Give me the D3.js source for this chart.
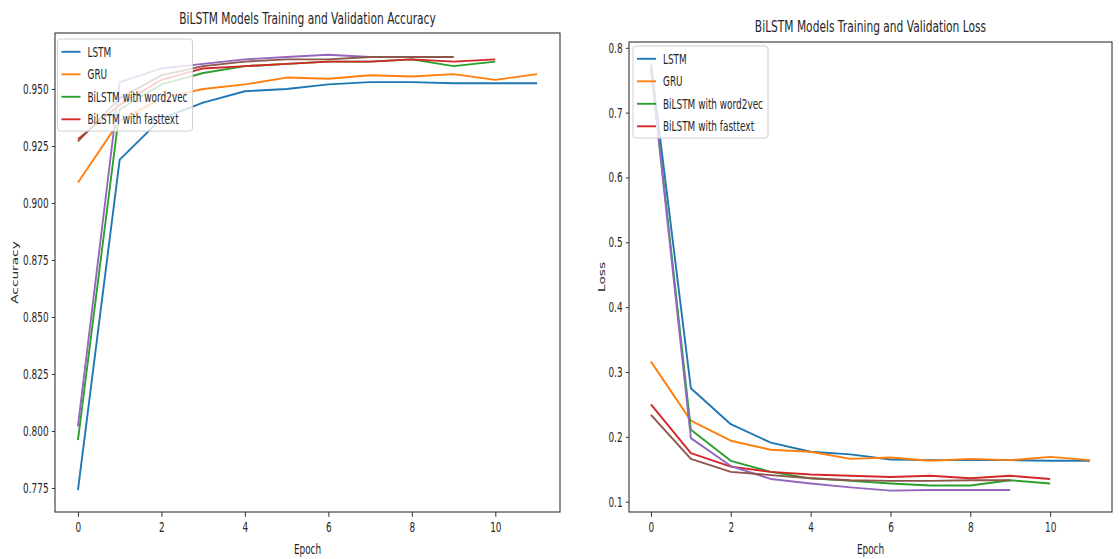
<!DOCTYPE html>
<html><head><meta charset="utf-8">
<script src="https://cdn.jsdelivr.net/npm/d3@7"></script>
<style>
body{margin:0;background:#fff}
svg{display:block}
text{font-family:"DejaVu Sans",sans-serif;fill:#262626}
</style>
</head><body>
<svg id="c" width="1120" height="559"></svg>
<script>
// ---------- data ----------
const epochs = d3.range(12);
const seriesNames = ["LSTM", "GRU", "BiLSTM with word2vec", "BiLSTM with fasttext", "", ""];
const seriesColors = ["#1f77b4", "#ff7f0e", "#2ca02c", "#d62728", "#9467bd", "#8c564b"];

const accLSTM     = [0.774, 0.919, 0.937, 0.944, 0.949, 0.950, 0.952, 0.953, 0.953, 0.9525, 0.9525, 0.9525];
const accGRU      = [0.909, 0.936, 0.946, 0.950, 0.952, 0.955, 0.9545, 0.956, 0.9555, 0.9565, 0.954, 0.9565];
const accWord2vec = [0.796, 0.941, 0.952, 0.957, 0.960, 0.961, 0.962, 0.962, 0.963, 0.960, 0.962];
const accFasttext = [0.928, 0.943, 0.954, 0.959, 0.960, 0.961, 0.962, 0.962, 0.963, 0.962, 0.963];
const accExtra1   = [0.802, 0.953, 0.959, 0.961, 0.963, 0.964, 0.965, 0.964, 0.964, 0.964];
const accExtra2   = [0.927, 0.946, 0.956, 0.960, 0.962, 0.963, 0.963, 0.964, 0.964, 0.964];

const lossLSTM     = [0.776, 0.275, 0.2195, 0.191, 0.177, 0.173, 0.165, 0.164, 0.164, 0.164, 0.163, 0.163];
const lossGRU      = [0.316, 0.225, 0.194, 0.180, 0.177, 0.166, 0.168, 0.163, 0.166, 0.164, 0.169, 0.164];
const lossWord2vec = [0.770, 0.211, 0.163, 0.146, 0.136, 0.132, 0.128, 0.125, 0.125, 0.133, 0.128];
const lossFasttext = [0.250, 0.175, 0.154, 0.146, 0.142, 0.140, 0.138, 0.140, 0.136, 0.140, 0.135];
const lossExtra1   = [0.768, 0.198, 0.155, 0.135, 0.128, 0.122, 0.117, 0.118, 0.118, 0.118];
const lossExtra2   = [0.234, 0.166, 0.146, 0.141, 0.136, 0.133, 0.132, 0.132, 0.133, 0.133];

const xTicks = [0, 2, 4, 6, 8, 10];
const accTicks = [0.775, 0.800, 0.825, 0.850, 0.875, 0.900, 0.925, 0.950];
const lossTicks = [0.1, 0.2, 0.3, 0.4, 0.5, 0.6, 0.7, 0.8];

// ---------- layout ----------
const SX = 0.65;           // horizontal squeeze of the picture
const FS = 13.7, FT = 16.4;
const svg = d3.select("#c");

const panels = [
  { id: "acc", title: "BiLSTM Models Training and Validation Accuracy", ylabel: "Accuracy",
    series: [accLSTM, accGRU, accWord2vec, accFasttext, accExtra1, accExtra2],
    ticks: accTicks, fmt: d3.format(".3f"),
    box: { l: 55, r: 560, t: 33, b: 512 }, titleY: 24, ylabelX: 14, legTop: 39, legLeft: 57.5 },
  { id: "loss", title: "BiLSTM Models Training and Validation Loss", ylabel: "Loss",
    series: [lossLSTM, lossGRU, lossWord2vec, lossFasttext, lossExtra1, lossExtra2],
    ticks: lossTicks, fmt: d3.format(".1f"),
    box: { l: 629, r: 1112, t: 42, b: 512 }, titleY: 32, ylabelX: 601, legTop: 46, legLeft: 633 }
];

function pad(ext) { const r = ext[1] - ext[0]; return [ext[0] - 0.05 * r, ext[1] + 0.05 * r]; }

panels.forEach(p => {
  const B = p.box;
  const g = svg.append("g");
  const maxLen = d3.max(p.series, s => s.length);
  const x = d3.scaleLinear().domain(pad([0, maxLen - 1])).range([B.l, B.r]);
  const all = p.series.flat();
  const y = d3.scaleLinear().domain(pad(d3.extent(all))).range([B.b, B.t]);

  const clipId = "clip-" + p.id;
  svg.append("clipPath").attr("id", clipId).append("rect")
    .attr("x", B.l).attr("y", B.t).attr("width", B.r - B.l).attr("height", B.b - B.t);

  const line = d3.line().x((d, i) => x(epochs[i])).y(d => y(d));
  p.series.forEach((s, i) => {
    g.append("path").datum(s).attr("d", line)
      .attr("fill", "none").attr("stroke", seriesColors[i])
      .attr("stroke-width", 1.9).attr("stroke-linejoin", "round")
      .attr("clip-path", `url(#${clipId})`);
  });

  // axes
  const xa = g.append("g").attr("transform", `translate(0,${B.b})`)
    .call(d3.axisBottom(x).tickValues(xTicks).tickFormat(d3.format("d")).tickSize(4.9).tickPadding(4.9).tickSizeOuter(0));
  const ya = g.append("g").attr("transform", `translate(${B.l},0)`)
    .call(d3.axisLeft(y).tickValues(p.ticks).tickFormat(p.fmt).tickSize(3.2).tickPadding(3.2).tickSizeOuter(0));
  [xa, ya].forEach(a => {
    a.select(".domain").remove();
    a.selectAll("line").attr("stroke", "#333").attr("stroke-width", 1);
    a.selectAll("text").attr("font-size", FS).attr("font-family", "DejaVu Sans").attr("fill", "#262626");
  });
  xa.selectAll("text").attr("transform", `scale(${SX},1)`);
  ya.selectAll("text").attr("x", 0).attr("transform", `translate(-6.4,0) scale(${SX},1)`);

  // spines
  g.append("rect").attr("x", B.l).attr("y", B.t).attr("width", B.r - B.l).attr("height", B.b - B.t)
    .attr("fill", "none").attr("stroke", "#333").attr("stroke-width", 1.1);

  // title
  const cx = (B.l + B.r) / 2;
  g.append("text").text(p.title).attr("text-anchor", "middle").attr("font-size", FT)
    .attr("transform", `translate(${cx},${p.titleY}) scale(${SX},1)`);
  // x label
  g.append("text").text("Epoch").attr("text-anchor", "middle").attr("font-size", FS)
    .attr("transform", `translate(${cx},554) scale(${SX},1)`);
  // y label
  g.append("text").text(p.ylabel).attr("text-anchor", "middle").attr("font-size", FS)
    .attr("transform", `translate(${p.ylabelX + 4},${(B.t + B.b) / 2}) rotate(-90) scale(1,${SX})`);

  // legend (first four entries)
  const entries = seriesNames.map((n, i) => ({ n, c: seriesColors[i] })).filter(e => e.n);
  const lg = g.append("g");
  const box = lg.append("rect");
  const rowH = 22.5, first = 12.8;
  let maxW = 0;
  entries.forEach((e, i) => {
    const yy = p.legTop + first + i * rowH;
    lg.append("line").attr("x1", p.legLeft + 4).attr("x2", p.legLeft + 23)
      .attr("y1", yy).attr("y2", yy).attr("stroke", e.c).attr("stroke-width", 1.9);
    const t = lg.append("text").text(e.n).attr("font-size", FS).attr("dy", "0.35em")
      .attr("transform", `translate(${p.legLeft + 30},${yy}) scale(${SX},1)`);
    maxW = Math.max(maxW, t.node().getComputedTextLength() * SX);
  });
  box.attr("x", p.legLeft).attr("y", p.legTop).attr("rx", 3)
    .attr("width", 30 + maxW + 5).attr("height", first * 2 + rowH * (entries.length - 1) - 1)
    .attr("fill", "#fff").attr("fill-opacity", 0.8).attr("stroke", "#d0d0d0").attr("stroke-width", 1);
});
</script>
</body></html>
